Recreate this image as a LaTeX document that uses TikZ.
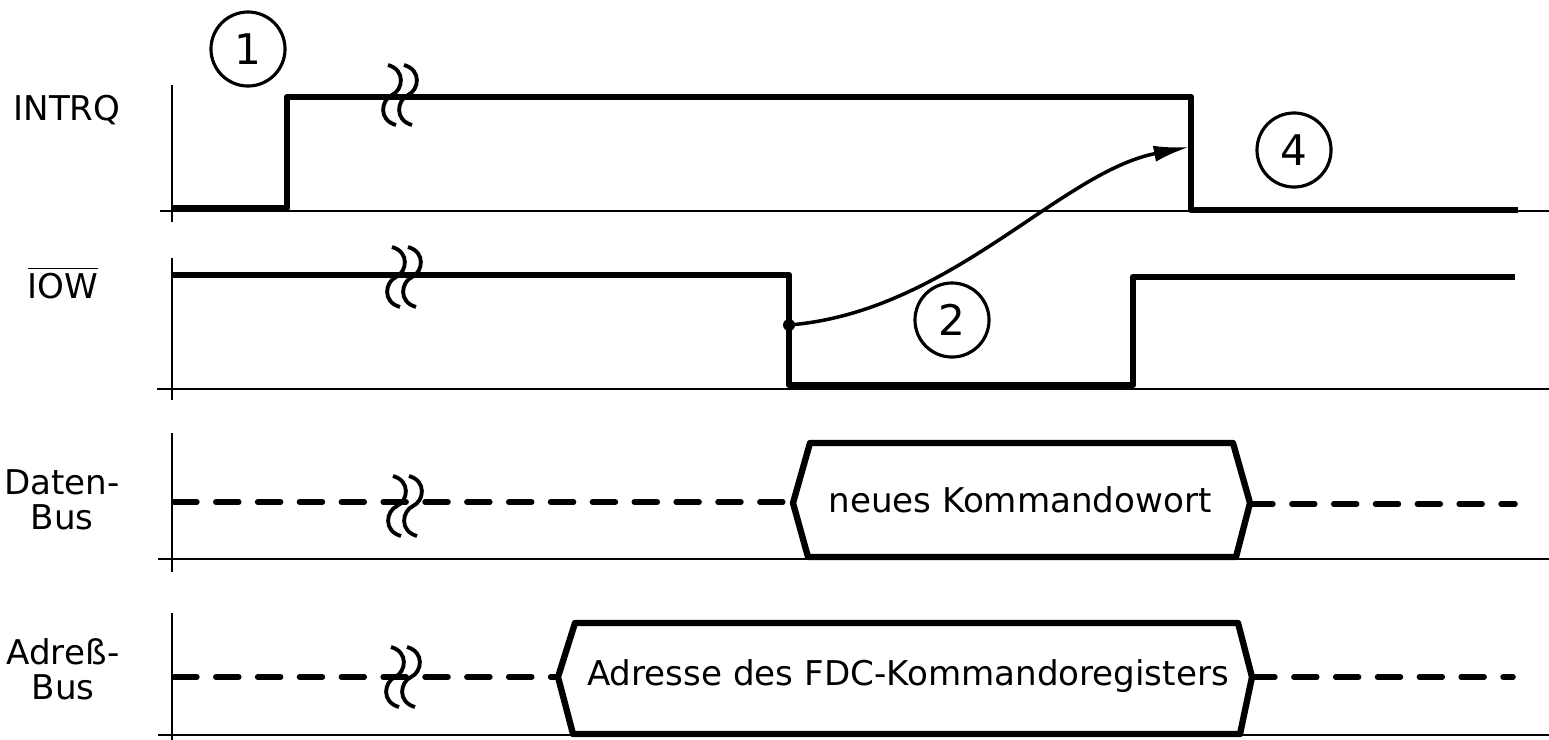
\documentclass[tikz,border=0pt]{standalone}
\usepackage{fontspec}
\usepackage{amsmath}
\setmainfont{DejaVu Sans}
\usetikzlibrary{arrows.meta, positioning, calc}
\tikzset{
  axis/.style={line width=0.7pt, color=black},
  sig/.style={line width=1.9pt, color=black, line join=round},
  bus/.style={line width=1.6pt, color=black, line cap=round, dash pattern=on 6.5pt off 5.4pt},
  hexa/.style={line width=1.8pt, color=black, line join=round},
  lbl/.style={font=\fontsize{9.7}{10}\selectfont, align=center, inner sep=0pt},
  num/.style={circle, draw, line width=0.9pt, minimum size=0.74cm, inner sep=0pt,
    font=\fontsize{12}{14}\selectfont},
  arr/.style={-{Latex[length=10pt, width=4.6pt]}, line width=1pt},
  squiggle/.pic={
    \foreach \c in {-8,8}
      \draw[line width=1.1pt] (\c-4,-30) .. controls (\c+14,-25) and (\c+11,-5) .. (\c,0)
        .. controls (\c-11,5) and (\c-14,25) .. (\c+4,30);
  }
}
\begin{document}
\begin{tikzpicture}[x=0.01cm, y=-0.01cm]
  \useasboundingbox (0,0) rectangle (1549,739);
  % signal names
  \node[lbl] (lintrq) at (67,110) {INTRQ};
  \node[lbl] (liow) at (63,283) {$\overline{\text{IOW}}$};
  \node[lbl] (ldaten) at (62,500) {Daten-\\Bus};
  \node[lbl] (ladr) at (63,669) {Adre\ss-\\Bus};
  % axes
  \draw[axis] (172,85) -- (172,222);
  \draw[axis] (160,211) -- (1549,211);
  \draw[axis] (172,258) -- (172,400);
  \draw[axis] (157,389) -- (1549,389);
  \draw[axis] (172,433) -- (172,572);
  \draw[axis] (158,559) -- (1549,559);
  \draw[axis] (172,613) -- (172,745);
  \draw[axis] (158,735) -- (1549,735);
  % INTRQ
  \draw[sig] (172,208) -- (287,208) -- (287,97) -- (1191,97) -- (1191,210) -- (1518,210);
  \pic at (400,95) {squiggle};
  % IOW
  \draw[sig] (172,275) -- (789,275) -- (789,385) -- (1133,385) -- (1133,277) -- (1515,277);
  \pic at (404,277) {squiggle};
  % Daten-Bus
  \draw[bus] (174,502) -- (793,502);
  \draw[bus] (1250,504) -- (1515,504);
  \draw[hexa] (793,503) -- (810,443) -- (1233,443) -- (1250,503) -- (1236,557) -- (808,557) -- cycle;
  \node[lbl] (daten) at (1020,500) {neues Kommandowort};
  \pic at (405,506) {squiggle};
  % Adress-Bus
  \draw[bus] (174,677) -- (558,677);
  \draw[bus] (1252,677) -- (1513,677);
  \draw[hexa] (558,677) -- (575,623) -- (1238,623) -- (1252,677) -- (1240,734) -- (573,734) -- cycle;
  \node[lbl] (adr) at (908,676) {Adresse des FDC-Kommandoregisters};
  \pic at (403,677) {squiggle};
  % reaction of INTRQ on IOW
  \coordinate (iowdot) at (789,325);
  \coordinate (intrqhit) at (1189,147);
  \fill (iowdot) circle (6);
  \draw[arr] (iowdot) .. controls (950,312) and (1060,172) .. (intrqhit);
  % step numbers
  \node[num] (n1) at (248,49) {1};
  \node[num] (n2) at (952,320) {2};
  \node[num] (n4) at (1294,150) {4};
\end{tikzpicture}
\end{document}
